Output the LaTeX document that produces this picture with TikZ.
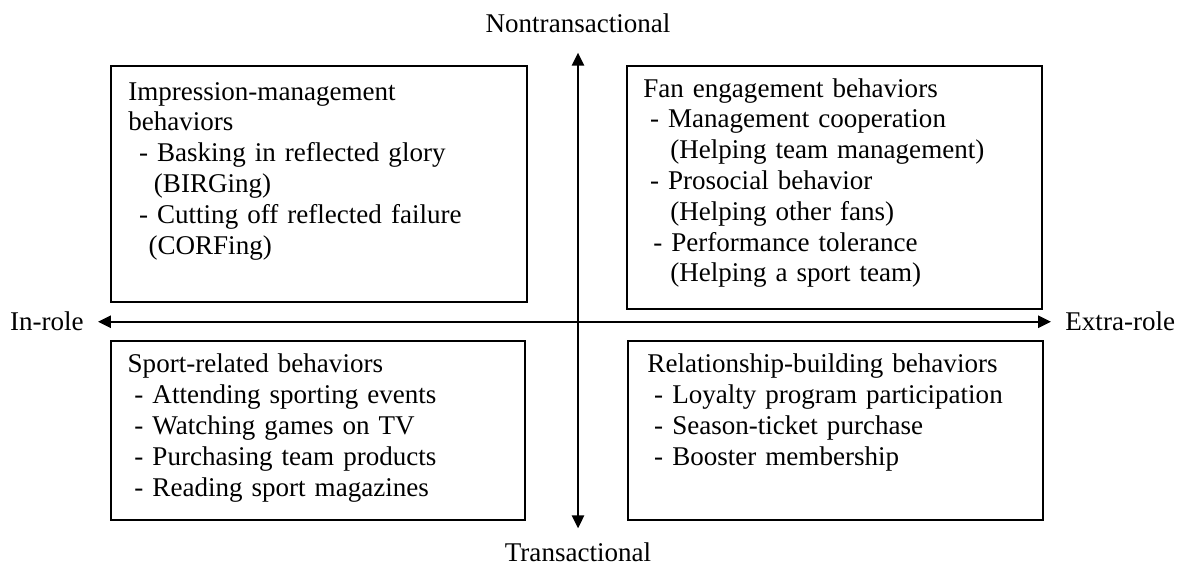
\documentclass[tikz,border=0pt]{standalone}
\usepackage{fontspec}
\setmainfont{Liberation Serif}
\usetikzlibrary{arrows.meta}

\begin{document}
\begin{tikzpicture}[
	font=\fontsize{13}{14.8}\selectfont,
	quad/.style={draw, line width=0.9pt, anchor=north west, inner sep=0pt},
	items/.style={anchor=base west, inner sep=0pt, text width=6.8cm, align=left},
	pole/.style={inner sep=0pt},
	axis/.style={line width=1.1pt, {Triangle[length=6.2pt,width=5.8pt]}-{Triangle[length=6.2pt,width=5.8pt]}}]
	\useasboundingbox (0,0) rectangle (20,-9.561);
	% the four quadrants
	\node[quad, minimum width=7.02cm, minimum height=3.99cm] (impbox) at (1.86,-1.10) {};
	\node[quad, minimum width=7.01cm, minimum height=4.10cm] (fanbox) at (10.58,-1.10) {};
	\node[quad, minimum width=6.99cm, minimum height=3.03cm] (sportbox) at (1.86,-5.74) {};
	\node[quad, minimum width=7.01cm, minimum height=3.02cm] (relbox) at (10.59,-5.75) {};
	\node[items] (imptext) at (2.16,-1.69) {Impression-management\\behaviors\\
		\hspace*{0.4em}- Basking in reflected glory\\\hspace*{0.95em}(BIRGing)\\
		\hspace*{0.4em}- Cutting off reflected failure\\\hspace*{0.75em}(CORFing)};
	\node[items] (fantext) at (10.86,-1.64) {Fan engagement behaviors\\
		\hspace*{0.25em}- Management cooperation\\\hspace*{1em}(Helping team management)\\
		\hspace*{0.25em}- Prosocial behavior\\\hspace*{1em}(Helping other fans)\\
		\hspace*{0.37em}- Performance tolerance\\\hspace*{1em}(Helping a sport team)};
	\node[items] (sporttext) at (2.15,-6.30) {Sport-related behaviors\\
		\hspace*{0.25em}- Attending sporting events\\\hspace*{0.25em}- Watching games on TV\\
		\hspace*{0.25em}- Purchasing team products\\\hspace*{0.25em}- Reading sport magazines};
	\node[items] (reltext) at (10.93,-6.30) {Relationship-building behaviors\\
		\hspace*{0.25em}- Loyalty program participation\\\hspace*{0.25em}- Season-ticket purchase\\
		\hspace*{0.25em}- Booster membership};
	% axes
	\node[pole, anchor=base] (nontrans) at (9.764,-0.541) {Nontransactional};
	\node[pole, anchor=base] (trans) at (9.764,-9.477) {Transactional};
	\node[pole, anchor=base east] (inrole) at (1.42,-5.591) {In-role};
	\node[pole, anchor=base west] (extrarole) at (17.99,-5.591) {Extra-role};
	\draw[axis, shorten <=9.6pt, shorten >=6.5pt] (nontrans) -- (trans);
	\draw[axis, shorten <=6.7pt, shorten >=6.7pt] (inrole) -- (extrarole);
\end{tikzpicture}
\end{document}
